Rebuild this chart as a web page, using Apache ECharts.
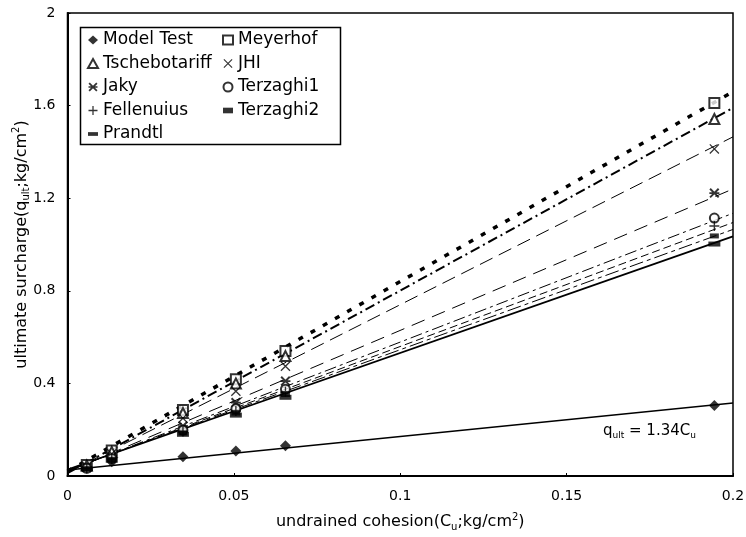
<!DOCTYPE html>
<html>
<head>
<meta charset="utf-8">
<script src="https://cdn.jsdelivr.net/npm/echarts@6/dist/echarts.min.js"></script>
<style>html,body{margin:0;padding:0;background:#fff}#c{width:746px;height:537px}</style>
</head>
<body>
<div id="c"></div>
<script>
// Cohesion values (x)
var cohesion = [0.0058, 0.0133, 0.0347, 0.0506, 0.0655, 0.1944];
// Ultimate surcharge per method (y)
var modelTest     = [0.039, 0.062, 0.083, 0.108, 0.131, 0.304];
var meyerhof      = [0.047, 0.110, 0.285, 0.418, 0.540, 1.611];
var tschebotariff = [0.045, 0.104, 0.272, 0.400, 0.518, 1.542];
var jhi           = [0.041, 0.096, 0.250, 0.366, 0.474, 1.413];
var jaky          = [0.036, 0.083, 0.216, 0.317, 0.410, 1.222];
var terzaghi1     = [0.033, 0.076, 0.198, 0.290, 0.375, 1.114];
var fellenuius    = [0.032, 0.073, 0.192, 0.281, 0.364, 1.080];
var terzaghi2     = [0.031, 0.071, 0.186, 0.272, 0.352, 1.037];
var prandtl       = [0.030, 0.068, 0.180, 0.263, 0.340, 1.002];
// Trend lines: value at Cu = 0 and Cu = 0.2
var trendX = [0, 0.2];
var modelFit      = [0.026, 0.315];
var meyerhofFit   = [0.020, 1.660];
var tschFit       = [0.012, 1.590];
var jhiFit        = [0.015, 1.465];
var jakyFit       = [0.018, 1.240];
var terz1Fit      = [0.022, 1.135];
var fellFit       = [0.024, 1.095];
var terz2Fit      = [0.026, 1.065];
var prandtlFit    = [0.028, 1.035];
var xTicks = [0, 0.05, 0.1, 0.15, 0.2];
var yTicks = [0, 0.4, 0.8, 1.2, 1.6, 2];

function pairs(xs, ys){ return xs.map(function(x,i){return [x, ys[i]];}); }

var FONT = '"DejaVu Sans", Verdana, sans-serif';
var SYM_X = 'path://M0,0.9L0.9,0L10,9.1L9.1,10Z M9.1,0L10,0.9L0.9,10L0,9.1Z';
var SYM_AST = 'path://M0,1.4L1.4,0L10,8.6L8.6,10Z M8.6,0L10,1.4L1.4,10L0,8.6Z M0,4.2L10,4.2L10,5.8L0,5.8Z';
var SYM_PLUS = 'path://M4.3,0h1.4v4.3h4.3v1.4h-4.3v4.3h-1.4v-4.3h-4.3v-1.4h4.3z';
var SYM_DASH_S = 'path://M0,0h8v4.5h-8z';
var SYM_DASH_L = 'path://M0,0h12v4.5h-12z';

var pts = [
  {name:'Model Test', data:modelTest, symbol:'diamond', size:11, empty:false, icon:'diamond'},
  {name:'Meyerhof', data:meyerhof, symbol:'emptyRect', size:10, empty:true, icon:'emptyRect'},
  {name:'Tschebotariff', data:tschebotariff, symbol:'emptyTriangle', size:10, empty:true, icon:'emptyTriangle'},
  {name:'JHI', data:jhi, symbol:SYM_X, size:10, empty:false, icon:SYM_X},
  {name:'Jaky', data:jaky, symbol:SYM_AST, size:10, empty:false, icon:SYM_AST},
  {name:'Terzaghi1', data:terzaghi1, symbol:'emptyCircle', size:9, empty:true, icon:'emptyCircle'},
  {name:'Fellenuius', data:fellenuius, symbol:SYM_PLUS, size:10, empty:false, icon:SYM_PLUS},
  {name:'Terzaghi2', data:terzaghi2, symbol:'rect', size:[9,5], empty:false, icon:SYM_DASH_S},
  {name:'Prandtl', data:prandtl, symbol:'rect', size:[12,5], empty:false, icon:SYM_DASH_L}
];
var fits = [
  {data:modelFit, width:1.6, type:'solid'},
  {data:meyerhofFit, width:3.5, type:[5,9]},
  {data:tschFit, width:2, type:[10,4,2,4]},
  {data:jhiFit, width:1, type:[14,7]},
  {data:jakyFit, width:1, type:[14,8]},
  {data:terz1Fit, width:1, type:[12,4,3,4]},
  {data:fellFit, width:1, type:[8,4]},
  {data:terz2Fit, width:1, type:[14,4,4,4]},
  {data:prandtlFit, width:1.8, type:'solid'}
];

var series = [];
fits.forEach(function(f, i){
  series.push({
    name: pts[i].name + ' fit', type:'line', data: pairs(trendX, f.data),
    showSymbol:false, symbol:'none', silent:true, z:1,
    lineStyle:{color:'#000', width:f.width, type:f.type, cap:'butt'}
  });
});
pts.forEach(function(p){
  series.push({
    name:p.name, type:'scatter', data:pairs(cohesion, p.data),
    symbol:p.symbol, symbolSize:p.size, z:3,
    itemStyle: p.empty ? {color:'#000', borderColor:'#000', borderWidth:1.5} : {color:'#000', borderWidth:0}
  });
});

function legendData(names){
  return names.map(function(n){
    var p = pts.filter(function(q){return q.name===n;})[0];
    return {name:n, icon:p.icon};
  });
}
var legendCommon = {
  orient:'vertical', itemWidth:10, itemHeight:9, itemGap:3.5, top:30,
  textStyle:{fontFamily:FONT, fontSize:17, color:'#000', lineHeight:20},
  selectedMode:false, padding:0
};
var richTitle = {
  a:{fontSize:16, color:'#000', lineHeight:20, fontFamily:FONT},
  s:{fontSize:10, color:'#000', lineHeight:20, verticalAlign:'bottom', fontFamily:FONT},
  p:{fontSize:10, color:'#000', lineHeight:20, verticalAlign:'top', fontFamily:FONT}
};

var chart = echarts.init(document.getElementById('c'), null, {renderer:'canvas'});
chart.setOption({
  animation:false,
  backgroundColor:'#fff',
  textStyle:{fontFamily:FONT},
  grid:{left:67.5, right:13, top:13, bottom:61, containLabel:false, outerBoundsMode:'none',
        show:true, borderColor:'#000', borderWidth:1.5, backgroundColor:'transparent'},
  legend:[
    Object.assign({}, legendCommon, {left:87, data:legendData(['Model Test','Tschebotariff','Jaky','Fellenuius','Prandtl'])}),
    Object.assign({}, legendCommon, {left:222, data:legendData(['Meyerhof','JHI','Terzaghi1','Terzaghi2'])})
  ],
  xAxis:{
    type:'value', min:xTicks[0], max:xTicks[xTicks.length-1], interval:0.05,
    axisLine:{show:true, lineStyle:{color:'#000', width:2}},
    axisTick:{show:true, inside:true, length:3, lineStyle:{color:'#000'}},
    splitLine:{show:false},
    axisLabel:{color:'#000', fontSize:14, margin:13, fontFamily:FONT},
    name:'{a|undrained cohesion(C}{s|u}{a|;kg/cm}{p|2}{a|)}',
    nameLocation:'middle', nameGap:36, nameMoveOverlap:false,
    nameTextStyle:{rich:richTitle}
  },
  yAxis:{
    type:'value', min:yTicks[0], max:yTicks[yTicks.length-1], interval:0.4,
    axisLine:{show:true, lineStyle:{color:'#000', width:2}},
    axisTick:{show:true, inside:true, length:3, lineStyle:{color:'#000'}},
    splitLine:{show:false},
    axisLabel:{color:'#000', fontSize:14, margin:12, fontFamily:FONT},
    name:'{a|ultimate surcharge(q}{s|ult}{a|;kg/cm}{p|2}{a|)}',
    nameLocation:'middle', nameGap:36, nameMoveOverlap:false,
    nameTextStyle:{rich:richTitle}
  },
  graphic:[
    {type:'rect', left:78, top:25, shape:{width:260, height:117}, style:{fill:'none', stroke:'#000', lineWidth:1.5}, z:10},
    {type:'text', left:603, top:424, style:{
      text:'{a|q}{s|ult}{a| = 1.34C}{s|u}',
      rich:{
        a:{fontSize:15, fill:'#000', lineHeight:18, fontFamily:FONT},
        s:{fontSize:9, fill:'#000', lineHeight:18, verticalAlign:'bottom', fontFamily:FONT}
      }
    }, z:10}
  ],
  series:series
});
</script>
</body>
</html>
